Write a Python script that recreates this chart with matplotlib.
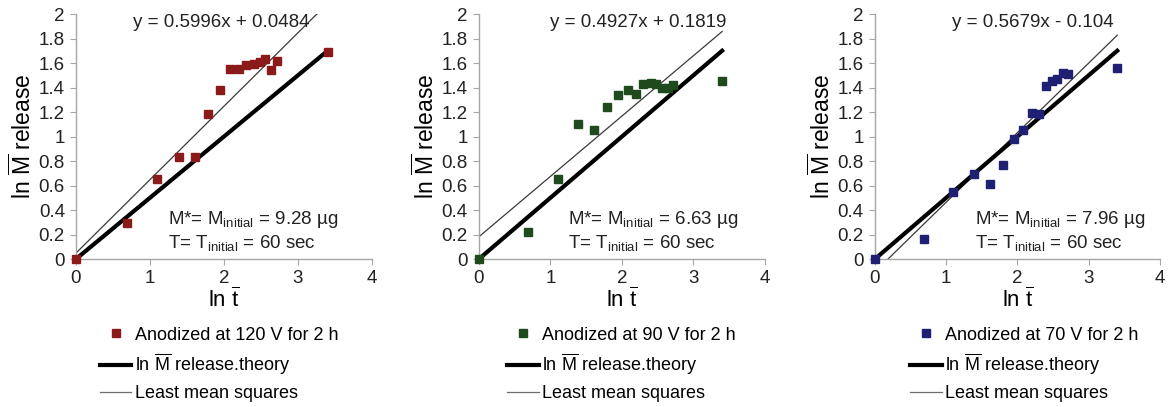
import numpy as np
import matplotlib
matplotlib.use("Agg")
import matplotlib.pyplot as plt
from matplotlib.ticker import FuncFormatter

plt.rcParams['font.family'] = ['Liberation Sans', 'DejaVu Sans']
plt.rcParams['mathtext.fontset'] = 'custom'
plt.rcParams['mathtext.rm'] = 'Liberation Sans'
plt.rcParams['mathtext.it'] = 'Liberation Sans:italic'

# ln t for t = 1..15 and 30
ln_t = [0, 0.69, 1.10, 1.39, 1.61, 1.79, 1.95, 2.08, 2.20, 2.30, 2.40, 2.48, 2.56, 2.64, 2.71, 3.40]

release_120 = [0, 0.29, 0.65, 0.83, 0.83, 1.18, 1.38, 1.55, 1.55, 1.58, 1.59, 1.61, 1.63, 1.54, 1.62, 1.69]
release_90 = [0, 0.22, 0.65, 1.10, 1.05, 1.24, 1.34, 1.38, 1.35, 1.43, 1.44, 1.43, 1.40, 1.40, 1.42, 1.45]
release_70 = [0, 0.16, 0.55, 0.69, 0.61, 0.77, 0.98, 1.05, 1.19, 1.18, 1.41, 1.45, 1.47, 1.52, 1.51, 1.56]

series_labels = ['Anodized at 120 V for 2 h', 'Anodized at 90 V for 2 h', 'Anodized at 70 V for 2 h']
colors = ['#8b1a1a', '#1e4a1e', '#1f1f73']
slopes = [0.5996, 0.4927, 0.5679]
intercepts = [0.0484, 0.1819, -0.104]
equations = ['y = 0.5996x + 0.0484', 'y = 0.4927x + 0.1819', 'y = 0.5679x - 0.104']
m_initial = ['9.28', '6.63', '7.96']
theory_slope = 0.5
x_end = 3.4

# axes placement (left, right) in figure fractions
ax_lr = [(0.0649, 0.3177), (0.4090, 0.6533), (0.7472, 0.9906)]
legend_left = [0.079, 0.427, 0.771]
note_x = [0.31, 0.31, 0.35]
eq_x = [0.49, 0.556, 0.555]

fig = plt.figure(figsize=(11.71, 4.07), dpi=100)
bottom, top = 0.3636, 0.9656

for i, ys in enumerate([release_120, release_90, release_70]):
    l, r = ax_lr[i]
    ax = fig.add_axes([l, bottom, r - l, top - bottom])
    xs = np.array([0, x_end])
    ax.plot(ln_t, ys, 's', color=colors[i], ms=6, clip_on=False, zorder=4,
            label=series_labels[i])
    ax.plot(xs, theory_slope * xs, color='black', lw=3,
            label=r'ln $\overline{\mathrm{M}}$ release.theory', zorder=3)
    ax.plot(xs, slopes[i] * xs + intercepts[i], color='#3a3a3a', lw=0.9,
            label='Least mean squares', zorder=2)

    ax.set_xlim(0, 4)
    ax.set_ylim(0, 2)
    ax.set_xticks([0, 1, 2, 3, 4])
    ax.set_yticks(np.arange(0, 2.01, 0.2))
    ax.yaxis.set_major_formatter(FuncFormatter(lambda v, p: '%g' % round(v, 1)))
    for s in ['top', 'right']:
        ax.spines[s].set_visible(False)
    for s in ['left', 'bottom']:
        ax.spines[s].set_color('#a6a6a6')
        ax.spines[s].set_linewidth(1)
    ax.tick_params(length=4, color='#a6a6a6', labelsize=13.5, pad=4, labelcolor='#222222')
    ax.set_xlabel(r'ln $\overline{\mathrm{t}}$', fontsize=16, labelpad=0)
    ax.set_ylabel(r'ln $\overline{\mathrm{M}}$ release', fontsize=16.5, labelpad=2)

    ax.text(eq_x[i], 1.0, equations[i], transform=ax.transAxes, ha='center',
            va='top', fontsize=13.5, color='#222222')
    ax.text(note_x[i], 0.16, 'M*= M$_{\\mathrm{initial}}$ = ' + m_initial[i] + ' µg',
            transform=ax.transAxes, fontsize=13.5, va='center', color='#222222')
    ax.text(note_x[i], 0.065, 'T= T$_{\\mathrm{initial}}$ = 60 sec',
            transform=ax.transAxes, fontsize=13.5, va='center', color='#222222')

    handles, labels = ax.get_legend_handles_labels()
    leg = fig.legend(handles, labels, loc='upper left',
                     bbox_to_anchor=(legend_left[i], 0.215), frameon=False,
                     fontsize=13, handlelength=1.75, handletextpad=0.2,
                     labelspacing=0.45, borderaxespad=0)
    leg.legend_handles[2].set_color('#6e6e6e')

fig.savefig('out.png', dpi=100)
